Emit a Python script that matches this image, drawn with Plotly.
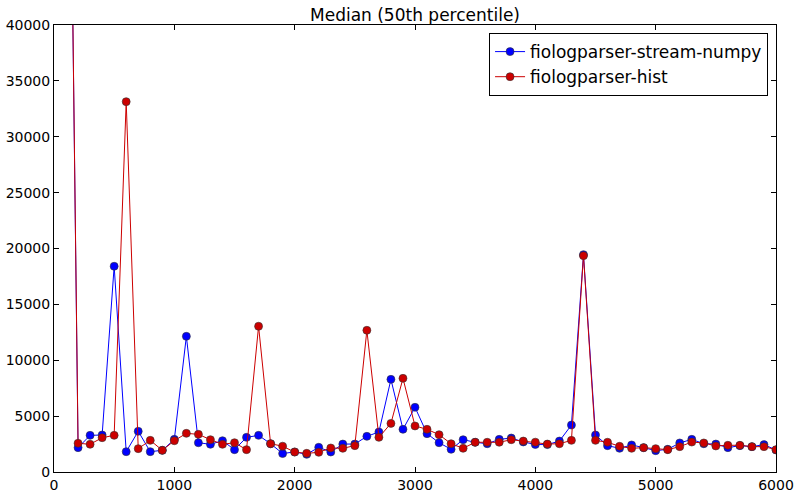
import plotly.graph_objects as go

x_vals = list(range(100, 6001, 100))

stream_numpy = [
    90000, 2180, 3280, 3310, 18410, 1820, 3640, 1820, 1940, 2920,
    12140, 2620, 2480, 2800, 2000, 3100, 3280, 2530, 1650, 1800,
    1580, 2210, 1790, 2500, 2500, 3190, 3580, 8290, 3820, 5790,
    3430, 2620, 2030, 2890, 2660, 2530, 2920, 3040, 2690, 2460,
    2450, 2770, 4200, 19450, 3310, 2360, 2120, 2420, 2180, 1910,
    2030, 2600, 2920, 2530, 2500, 2180, 2360, 2270, 2450, 1970,
]

hist = [
    90000, 2570, 2480, 3070, 3280, 33140, 2090, 2830, 1940, 2800,
    3460, 3370, 2890, 2480, 2620, 2000, 13040, 2530, 2310, 1780,
    1670, 1760, 2150, 2120, 2360, 12680, 3100, 4350, 8380, 4120,
    3820, 3340, 2530, 2120, 2660, 2660, 2660, 2890, 2770, 2670,
    2500, 2530, 2830, 19360, 2830, 2660, 2300, 2120, 2180, 2090,
    2000, 2270, 2680, 2600, 2330, 2390, 2390, 2270, 2270, 2000,
]

x_ticks = [0, 1000, 2000, 3000, 4000, 5000, 6000]
y_ticks = [0, 5000, 10000, 15000, 20000, 25000, 30000, 35000, 40000]

series_names = ["fiologparser-stream-numpy", "fiologparser-hist"]
series_colors = ["#0000ff", "#cc0000"]

fig = go.Figure()
for name, ys, col in zip(series_names, [stream_numpy, hist], series_colors):
    fig.add_trace(go.Scatter(
        x=x_vals, y=ys, name=name, mode="lines+markers",
        line=dict(color=col, width=1),
        marker=dict(color=col, size=8, line=dict(color="#333333", width=0.6)),
    ))

axis_common = dict(
    showgrid=False, zeroline=False, showline=True, linecolor="black", linewidth=1,
    mirror="ticks", ticks="inside", ticklen=5, tickcolor="black", automargin=False,
    tickfont=dict(family="DejaVu Sans", size=14, color="black"),
)

fig.update_layout(
    width=800, height=497,
    margin=dict(l=54, r=24, t=25, b=25),
    paper_bgcolor="white", plot_bgcolor="white",
    title=dict(text="Median (50th percentile)", x=0.5, xref="paper", xanchor="center",
               y=1 - 15 / 497, yanchor="middle",
               font=dict(family="DejaVu Sans", size=17, color="black")),
    xaxis=dict(range=[0, 6000], tickvals=x_ticks, ticktext=[str(v) for v in x_ticks], **axis_common),
    yaxis=dict(range=[0, 40000], tickvals=y_ticks, ticktext=[str(v) for v in y_ticks], **axis_common),
    legend=dict(x=0.989, xanchor="right", y=0.982, yanchor="top",
                bgcolor="white", bordercolor="black", borderwidth=1,
                font=dict(family="DejaVu Sans", size=17, color="black")),
    showlegend=True,
)

fig.write_html("out.html", config={"responsive": False, "displayModeBar": False},
               post_script="document.body.style.margin='0';")
